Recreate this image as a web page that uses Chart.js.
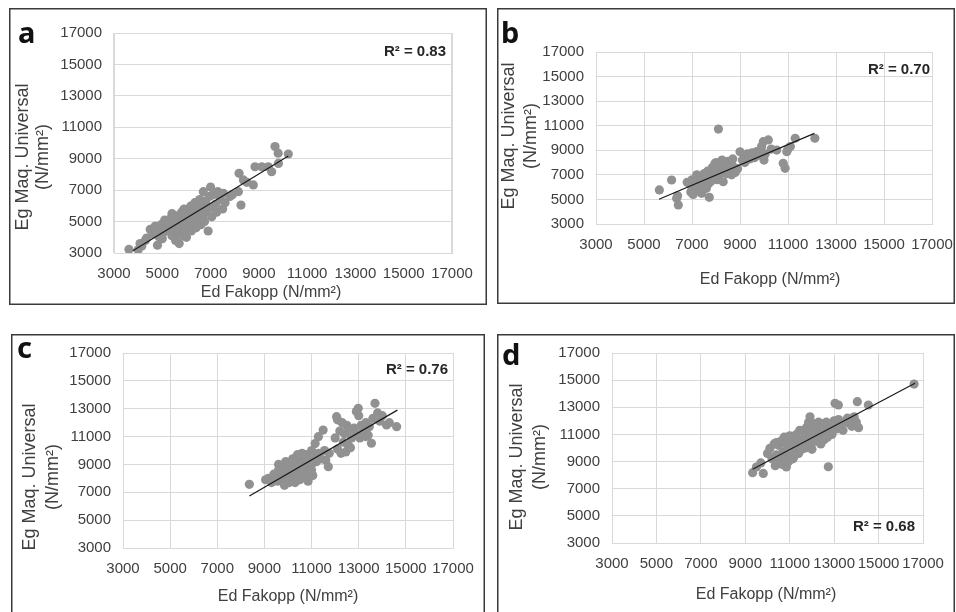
<!DOCTYPE html>
<html>
<head>
<meta charset="utf-8">
<script src="https://cdn.jsdelivr.net/npm/chart.js@4.4.1/dist/chart.umd.min.js"></script>
<style>
  body { margin: 0; background: #fff; width: 956px; height: 612px; overflow: hidden; position: relative; }
  canvas { position: absolute; }
</style>
</head>
<body>
<canvas id="chartA" width="478" height="297" style="left:9px;top:8px"></canvas>
<canvas id="chartB" width="458" height="296" style="left:497px;top:8px"></canvas>
<canvas id="chartC" width="474" height="278" style="left:11px;top:334px"></canvas>
<canvas id="chartD" width="458" height="278" style="left:497px;top:334px"></canvas>
<script>
// Ejes comunes
const tickValues = [3000, 5000, 7000, 9000, 11000, 13000, 15000, 17000];
const xTitle = 'Ed Fakopp (N/mm²)';
const yTitle = ['Eg Maq. Universal', '(N/mm²)'];

// Panel a  [Ed, Eg]
const pointsA = [
  [3620,3230],[4000,3200],[4080,3600],[4150,3450],[4300,3800],[4350,3950],[4500,4500],[4600,4200],
  [4700,4700],[4750,4400],[4800,3500],[4850,4050],[4900,4600],[5000,3900],[5050,4300],[4950,4800],
  [5200,4700],[5250,5000],[5300,4400],[5350,5200],[5400,4100],[5450,4800],[5500,5400],[5500,4500],
  [5550,3800],[5600,5000],[5650,4300],[5700,5300],[5700,3600],[5750,4700],[5800,5600],[5850,4100],
  [5900,5100],[5950,4500],[6000,5700],[6000,4000],[6050,5300],[6100,4800],[6150,5900],[6200,4400],
  [6250,5500],[6300,5000],[6350,6200],[6400,4600],[6450,5700],[6500,5200],[6550,6400],[6600,4800],
  [6650,6000],[6700,6900],[6700,5400],[6750,5000],[6800,6300],[6850,5700],[6900,4400],[6950,6600],
  [7000,7200],[7000,5900],[7050,5300],[7100,6700],[7200,6100],[7250,5600],[7300,6900],[7400,6400],
  [7500,5800],[7530,6800],[7600,6200],[7800,6600],[7900,6700],
  [5100,5100],[5300,4900],[5600,4600],[5800,4900],[6100,5200],[6300,5600],[5400,5500],[5900,5800],
  [6600,5800],[6200,6000],
  [8150,6900],[8180,8070],[8260,6050],[8360,7650],[8500,7500],[8770,7330],[8840,8490],[9120,8490],
  [9390,8490],[9530,8170],[9670,9770],[9800,9350],[9810,8700],[10220,9300]
];
const trendA = [[3780,3150],[10220,9170]];

// Panel b
const pointsB = [
  [5640,5770],[6150,6580],[6360,5090],[6430,4550],[6400,5300],[6800,6400],[6900,6300],[6950,5600],
  [7000,6000],[7050,5400],[7100,6500],[7200,7000],[7250,6200],[7300,5700],[7350,6800],[7400,5500],
  [7450,6400],[7500,7100],[7550,6000],[7600,6700],[7650,7300],[7700,6300],[7720,5170],[7750,7000],
  [7800,6500],[7850,7600],[7900,6800],[7950,7900],[8000,7200],[8050,6600],[8100,7500],[8100,10730],
  [8150,7000],[8200,7700],[8250,8200],[8300,6440],[8300,7300],[8350,8000],[8400,7600],[8450,7100],
  [8500,8100],[8550,7400],[8600,7800],[8650,7000],[8700,7700],[8800,7200],[8900,7500],[9000,8880],
  [9100,8200],[9200,8500],[9300,8700],[9400,8300],[9500,8800],[9600,8400],[9700,8900],[9800,8600],
  [9900,9300],[9970,9700],[10000,8200],[10050,8700],[10180,9840],[10300,9100],[10530,9020],[10800,7940],
  [10880,7530],[10950,8880],[11000,9100],[11100,9300],[11300,9980],[12120,9980],[7000,6600],[7600,5900],
  [8000,8000],[9200,8000],[8700,8300]
];
const trendB = [[5625,5010],[12100,10380]];

// Panel c
const pointsC = [
  [8360,7570],[9050,7900],[9170,8000],[9300,7700],[9400,8300],[9500,8100],[9550,7800],[9600,8600],
  [9700,8400],[9750,7900],[9800,8800],[9850,7500],[9900,9200],[9950,8200],[10000,8700],[10050,7700],
  [10100,9000],[10150,8400],[10200,9400],[10250,8000],[10300,8800],[10350,9500],[10400,8300],[10450,9100],
  [10500,7900],[10550,9600],[10600,8600],[10650,9200],[10700,8100],[10750,9700],[10800,8900],[10850,7800],
  [10900,9400],[10950,8500],[11000,10000],[11000,9000],[11050,8200],[11100,9600],[11150,10500],[11200,9200],
  [11290,10990],[11300,9800],[11400,9400],[11490,11470],[11550,10000],[11600,9300],[11710,8840],[11750,9800],
  [10200,8700],[10600,9800],[9800,8000],[10300,7700],[10700,8700],[11000,8600],[10400,9700],[9600,9000],
  [12000,10900],[12060,12430],[12100,10100],[12200,11400],[12250,9800],[12300,12000],[12350,10600],[12400,11200],
  [12450,9900],[12500,11800],[12550,10400],[12600,11500],[12650,10200],[12700,10900],[12800,11600],[12900,11200],
  [12980,13030],[13000,12500],[13050,10900],[13100,11800],[13200,11400],[13300,12000],[13400,11100],[13450,11700],
  [13540,10520],[13600,12300],[13690,13390],[13800,12700],[13900,12100],[14000,12500],[14180,11830],[14300,12000],
  [14610,11710],[12100,12200],[12900,12800],[13300,11000]
];
const trendC = [[8360,6730],[14640,12900]];

// Panel d
const pointsD = [
  [9330,8180],[9500,8600],[9700,8900],[9810,8130],[10000,9600],[10110,9980],[10200,9200],[10300,10300],
  [10350,8700],[10400,9500],[10500,10200],[10550,9000],[10600,10500],[10650,8800],[10700,9700],[10750,10800],
  [10800,9300],[10850,8600],[10900,10100],[10950,9000],[11000,10900],[11050,9500],[11100,10300],[11150,9200],
  [11200,10600],[11250,9800],[11300,11000],[11350,10200],[11400,9600],[11450,11300],[11500,10500],[11550,9900],
  [11600,11200],[11650,10700],[11700,10000],[11750,11500],[11800,10400],[11850,11900],[11900,10900],[11914,12300],
  [11950,10200],[12000,11400],[12050,10700],[12100,11800],[12150,11100],[12200,10500],[12250,11600],[12300,10900],
  [12350,11300],[12400,10300],[12450,11800],[12500,11000],[12550,10600],[12600,11500],[12650,11900],[12700,10800],
  [12738,8620],[12800,11300],[12850,11700],[12900,11000],[13000,12000],[13040,13290],[13100,11400],[13190,13170],
  [13200,12100],[13300,11700],[13400,11300],[13500,11900],[13600,12200],[13700,11800],[13800,11600],[13900,12300],
  [14000,11900],[14044,13410],[14100,11500],[14540,13170],[16600,14710],[10400,10400],[10800,10500],[11200,9400],
  [11600,10200],[12000,9900],[11000,9300],[10500,9400],[12300,11900]
];
const trendD = [[9330,8430],[16640,14770]];

const toXY = arr => arr.map(p => ({ x: p[0], y: p[1] }));

// Texto y marco de cada panel
const panelDecor = {
  id: 'panelDecor',
  afterDraw(chart, args, o) {
    const ctx = chart.ctx;
    ctx.save();
    ctx.strokeStyle = '#3a3a3a';
    ctx.lineWidth = 1.5;
    ctx.strokeRect(0.75, 0.75, chart.width - 1.5, o.frameH - 1.5);

    ctx.fillStyle = '#111';
    ctx.font = 'bold 29px "Noto Sans"';
    ctx.textAlign = 'left';
    ctx.textBaseline = 'alphabetic';
    ctx.fillText(o.letter, o.letterX, o.letterY);

    ctx.fillStyle = '#262626';
    ctx.font = 'bold 15px "Liberation Sans"';
    ctx.textAlign = 'right';
    ctx.textBaseline = 'middle';
    ctx.fillText(o.r2, o.r2X, o.r2Y);

    ctx.fillStyle = '#404040';
    ctx.font = '16px "Liberation Sans"';
    ctx.textAlign = 'center';
    ctx.fillText(xTitle, o.xtX, o.xtY);

    ctx.font = '18px "Liberation Sans"';
    [o.ytX1, o.ytX2].forEach((x, i) => {
      ctx.save();
      ctx.translate(x, o.ytY);
      ctx.rotate(-Math.PI / 2);
      ctx.fillText(yTitle[i], 0, 0);
      ctx.restore();
    });
    ctx.restore();
  }
};

function makePanel(id, points, trend, o) {
  const canvas = document.getElementById(id);
  const W = canvas.width, H = canvas.height;
  const tickFont = { family: 'Liberation Sans', size: 15 };
  return new Chart(canvas, {
    type: 'scatter',
    data: {
      datasets: [
        {
          type: 'line',
          data: toXY(trend),
          borderColor: '#1a1a1a',
          borderWidth: 1.2,
          pointRadius: 0,
          fill: false,
          order: 0
        },
        {
          data: toXY(points),
          backgroundColor: '#919191',
          borderWidth: 0,
          pointRadius: 4.6,
          pointHoverRadius: 4.6,
          order: 1
        }
      ]
    },
    options: {
      responsive: false,
      animation: false,
      devicePixelRatio: 1,
      events: [],
      layout: { padding: { left: 0, top: o.area[1], right: W - o.area[2], bottom: 0 } },
      plugins: {
        legend: { display: false },
        tooltip: { enabled: false },
        panelDecor: o
      },
      scales: {
        x: {
          type: 'linear',
          min: 3000, max: 17000,
          z: 0,
          afterBuildTicks: s => { s.ticks = tickValues.map(v => ({ value: v })); },
          afterFit: s => { s.height = H - o.area[3]; s.paddingLeft = 0; s.paddingRight = 0; },
          ticks: { autoSkip: false, maxRotation: 0, padding: 12, color: '#404040', font: tickFont, callback: v => String(v) },
          grid: {
            drawTicks: false,
            lineWidth: o.whiteX ? 2 : 1,
            color: c => (o.whiteX && c.tick && c.tick.value !== 3000 && c.tick.value !== 17000) ? '#ffffff' : '#d9d9d9'
          },
          border: { display: true, color: '#d9d9d9' }
        },
        y: {
          type: 'linear',
          min: 3000, max: 17000,
          z: -1,
          afterBuildTicks: s => { s.ticks = tickValues.map(v => ({ value: v })); },
          afterFit: s => { s.width = o.area[0]; s.paddingTop = 0; s.paddingBottom = 0; },
          ticks: { autoSkip: false, padding: 12, color: '#404040', font: tickFont, callback: v => String(v) },
          grid: { drawTicks: false, color: '#d9d9d9' },
          border: { display: true, color: '#d9d9d9' }
        }
      }
    },
    plugins: [panelDecor]
  });
}

makePanel('chartA', pointsA, trendA, {
  area: [105, 25, 443, 245], frameH: 297, whiteX: true,
  letter: 'a', letterX: 9, letterY: 35,
  r2: 'R² = 0.83', r2X: 437, r2Y: 44,
  xtX: 262, xtY: 285, ytX1: 14, ytX2: 34, ytY: 149
});
makePanel('chartB', pointsB, trendB, {
  area: [99, 44, 435, 216], frameH: 296,
  letter: 'b', letterX: 4, letterY: 35,
  r2: 'R² = 0.70', r2X: 433, r2Y: 62,
  xtX: 273, xtY: 272, ytX1: 12, ytX2: 34, ytY: 128
});
makePanel('chartC', pointsC, trendC, {
  area: [112, 19, 442, 214], frameH: 300,
  letter: 'c', letterX: 6, letterY: 24,
  r2: 'R² = 0.76', r2X: 437, r2Y: 36,
  xtX: 277, xtY: 263, ytX1: 19, ytX2: 42, ytY: 143
});
makePanel('chartD', pointsD, trendD, {
  area: [115, 19, 426, 209], frameH: 300,
  letter: 'd', letterX: 5, letterY: 31,
  r2: 'R² = 0.68', r2X: 418, r2Y: 193,
  xtX: 269, xtY: 261, ytX1: 20, ytX2: 43, ytY: 123
});
</script>
</body>
</html>
